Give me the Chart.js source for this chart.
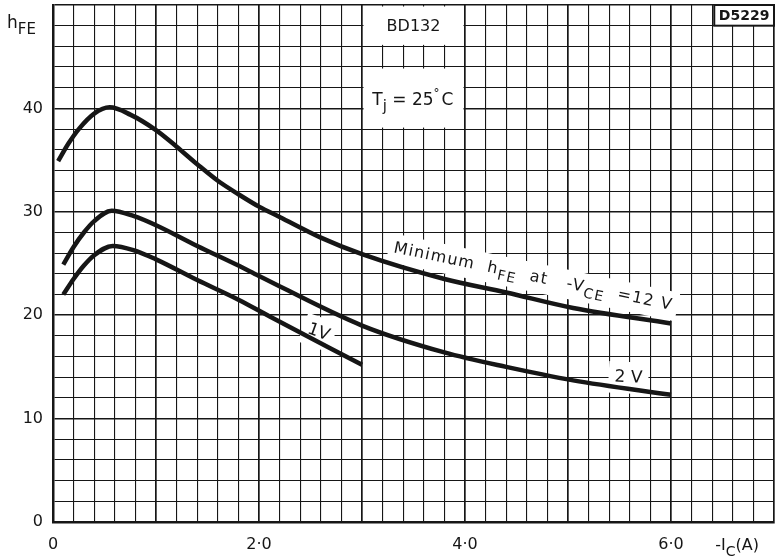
<!DOCTYPE html>
<html>
<head>
<meta charset="utf-8">
<script src="https://cdn.jsdelivr.net/npm/chart.js@4.4.1/dist/chart.umd.min.js"></script>
<style>
  html, body { margin: 0; padding: 0; background: #fff; }
  #wrap { width: 780px; height: 560px; }
</style>
</head>
<body>
<div id="wrap"><canvas id="chart" width="780" height="560"></canvas></div>
<script>
// -Ic (A) and hFE
const ic12V = [0.05, 0.15, 0.25, 0.4, 0.55, 0.75, 1.0, 1.2, 1.4, 1.6, 1.8, 2.0, 2.2, 2.6, 3.0, 3.8, 4.4, 5.05, 6.0];
const hfe12V = [34.9, 36.6, 38.0, 39.5, 40.1, 39.4, 37.9, 36.3, 34.6, 33.0, 31.7, 30.5, 29.5, 27.5, 25.9, 23.5, 22.2, 20.7, 19.2];

const ic2V = [0.1, 0.2, 0.3, 0.4, 0.57, 0.78, 1.0, 1.4, 1.8, 2.0, 3.0, 3.8, 4.4, 5.05, 6.0];
const hfe2V = [24.9, 26.6, 28.0, 29.1, 30.1, 29.6, 28.7, 26.7, 24.8, 23.8, 19.0, 16.4, 15.0, 13.7, 12.3];

const ic1V = [0.1, 0.2, 0.3, 0.4, 0.58, 0.78, 1.0, 1.4, 1.8, 2.1, 3.0];
const hfe1V = [22.0, 23.5, 24.8, 25.8, 26.7, 26.3, 25.4, 23.4, 21.5, 19.9, 15.2];

const xTickLabels = { 0: '0', 2: '2·0', 4: '4·0', 6: '6·0' };
const yTickLabels = [0, 10, 20, 30, 40];

function toPoints(xs, ys) {
    return xs.map((x, i) => ({ x: x, y: ys[i] }));
}

const INK = '#161616';
const FONT = '"DejaVu Sans", sans-serif';

// draw a string where some parts are subscripts, returns width
function richText(ctx, parts, size, draw) {
    let w = 0;
    parts.forEach(p => {
        ctx.font = (p.sub ? size - 2 : size) + 'px ' + FONT;
        if (draw) ctx.fillText(p.t, w, p.sub ? size * 0.35 : 0);
        w += ctx.measureText(p.t).width;
    });
    return w;
}

// text with a white band behind it, rotated around its left baseline point
function bandLabel(ctx, parts, size, px, py, angle, pad) {
    ctx.save();
    ctx.translate(px, py);
    ctx.rotate(angle);
    const w = richText(ctx, parts, size, false);
    ctx.fillStyle = '#fff';
    ctx.fillRect(-pad, -size - pad / 2, w + pad * 2, size * 1.5 + pad);
    ctx.fillStyle = INK;
    ctx.textBaseline = 'alphabetic';
    richText(ctx, parts, size, true);
    ctx.restore();
}

const notesPlugin = {
    id: 'notes',
    beforeDatasetsDraw(chart) {
        const { ctx, scales: { x, y } } = chart;
        ctx.save();
        ctx.fillStyle = '#fff';
        // BD132 and Tj boxes blank out the grid
        const blank = (x0, y0, x1, y1) => {
            const l = x.getPixelForValue(x0) + 1.5, r = x.getPixelForValue(x1) - 1.5;
            const t = y.getPixelForValue(y0) + 1.5, b = y.getPixelForValue(y1) - 1.5;
            ctx.fillRect(l, t, r - l, b - t);
        };
        blank(3.0, 50, 4.0, 46);
        blank(3.0, 44, 4.0, 38);
        // drawing number box
        const dl = x.getPixelForValue(6.42), dr = x.getPixelForValue(7.0);
        const dt = y.getPixelForValue(50), db = y.getPixelForValue(48.0);
        ctx.fillRect(dl, dt, dr - dl, db - dt);
        ctx.strokeStyle = INK;
        ctx.lineWidth = 2;
        ctx.strokeRect(dl, dt, dr - dl, db - dt);
        ctx.fillStyle = INK;
        ctx.font = 'bold 14px ' + FONT;
        ctx.textAlign = 'center';
        ctx.textBaseline = 'middle';
        ctx.fillText('D5229', (dl + dr) / 2, (dt + db) / 2 + 1);

        ctx.font = '16px ' + FONT;
        ctx.fillText('BD132', x.getPixelForValue(3.5), y.getPixelForValue(47.9));
        ctx.textAlign = 'left';
        ctx.textBaseline = 'alphabetic';
        const tx = x.getPixelForValue(3.1), ty = y.getPixelForValue(40.3);
        ctx.save();
        ctx.translate(tx, ty);
        const tparts = [{ t: 'T' }, { t: 'j', sub: true }, { t: ' = 25' }];
        richText(ctx, tparts, 17, true);
        const tw = richText(ctx, tparts, 17, false);
        ctx.font = '12px ' + FONT;
        ctx.fillText('°', tw, -8);
        ctx.font = '17px ' + FONT;
        ctx.fillText('C', tw + 8, 0);
        ctx.restore();

        // curve labels
        const sx = x.getPixelForValue(3.3), sy = y.getPixelForValue(26.1);
        const ex = x.getPixelForValue(5.96), ey = y.getPixelForValue(20.6);
        const ang = Math.atan2(ey - sy, ex - sx);
        ctx.save();
        const parts = [{ t: 'Minimum  h' }, { t: 'FE', sub: true }, { t: '  at   -V' }, { t: 'CE', sub: true }, { t: '  =12 V' }];
        const natural = richText(ctx, parts, 16, false);
        const len = Math.hypot(ex - sx, ey - sy);
        ctx.letterSpacing = Math.max(0, (len - natural) / 26).toFixed(2) + 'px';
        bandLabel(ctx, parts, 16, sx, sy, ang, 5);
        ctx.restore();

        bandLabel(ctx, [{ t: '1V' }], 17, x.getPixelForValue(2.46), y.getPixelForValue(18.3), 0.35, 5);
        bandLabel(ctx, [{ t: '2 V' }], 17, x.getPixelForValue(5.45), y.getPixelForValue(13.6), 0.05, 6);
        ctx.restore();
    },
    afterDraw(chart) {
        const { ctx, chartArea, scales: { x, y } } = chart;
        ctx.save();
        ctx.fillStyle = INK;
        ctx.textBaseline = 'alphabetic';
        // axis titles
        ctx.save();
        ctx.translate(chartArea.left - 46, y.getPixelForValue(47.8));
        richText(ctx, [{ t: 'h' }, { t: 'FE', sub: true }], 17, true);
        ctx.restore();
        ctx.save();
        ctx.translate(x.getPixelForValue(6.43), chartArea.bottom + 28);
        richText(ctx, [{ t: '-I' }, { t: 'C', sub: true }, { t: '(A)' }], 16, true);
        ctx.restore();
        ctx.restore();
    }
};

const ctx = document.getElementById('chart').getContext('2d');

const curve = (data) => ({
    data: data,
    borderColor: INK,
    borderWidth: 4.5,
    pointRadius: 0,
    fill: false,
    cubicInterpolationMode: 'monotone',
    borderCapStyle: 'butt'
});

const chart = new Chart(ctx, {
    type: 'line',
    data: {
        datasets: [
            curve(toPoints(ic12V, hfe12V)),
            curve(toPoints(ic2V, hfe2V)),
            curve(toPoints(ic1V, hfe1V))
        ]
    },
    options: {
        responsive: false,
        animation: false,
        layout: { padding: { top: 5, right: 6, left: 0, bottom: 0 } },
        plugins: {
            legend: { display: false },
            tooltip: { enabled: false }
        },
        scales: {
            x: {
                type: 'linear',
                min: 0,
                max: 7,
                afterFit: (s) => { s.height = 38; s.paddingLeft = 0; s.paddingRight = 0; },
                border: { display: true, color: INK, width: 2.5 },
                grid: {
                    color: INK,
                    drawTicks: false,
                    lineWidth: (c) => {
                        const v = c.tick ? c.tick.value : 0;
                        return Math.abs(v - Math.round(v)) < 1e-6 ? 1.7 : 1.1;
                    }
                },
                ticks: {
                    stepSize: 0.2,
                    autoSkip: false,
                    maxRotation: 0,
                    padding: 13,
                    color: INK,
                    font: { family: FONT, size: 16 },
                    callback: (v) => {
                        const r = Math.round(v);
                        return Math.abs(v - r) < 1e-6 && xTickLabels[r] !== undefined ? xTickLabels[r] : '';
                    }
                }
            },
            y: {
                min: 0,
                max: 50,
                afterFit: (s) => { s.width = 53; s.paddingTop = 0; s.paddingBottom = 0; },
                border: { display: true, color: INK, width: 2.5 },
                grid: {
                    color: INK,
                    drawTicks: false,
                    lineWidth: (c) => {
                        const v = c.tick ? c.tick.value : 0;
                        return v % 10 === 0 ? 1.5 : 1.1;
                    }
                },
                ticks: {
                    stepSize: 2,
                    autoSkip: false,
                    padding: 10,
                    color: INK,
                    font: { family: FONT, size: 16 },
                    callback: (v) => yTickLabels.includes(v) ? String(v) : ''
                }
            }
        }
    },
    plugins: [notesPlugin]
});
</script>
</body>
</html>
